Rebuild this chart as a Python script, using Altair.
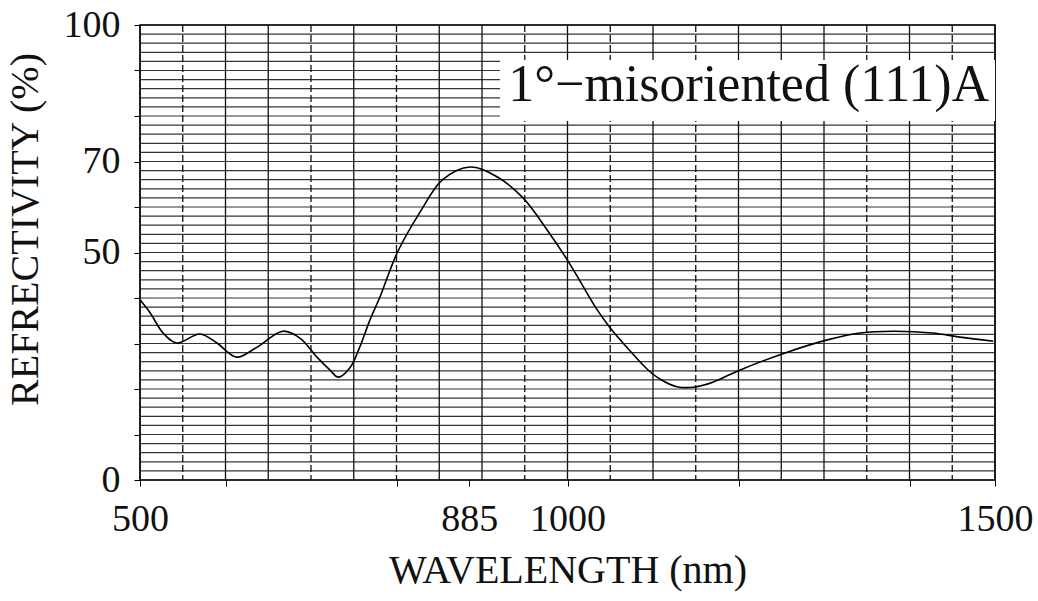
import altair as alt
import pandas as pd

# Curve
wavelength = [500, 512, 527, 543, 570, 590, 613, 637, 667, 687, 707, 722, 732,
              746, 757, 769, 781, 801, 827, 854, 886, 918, 948, 976, 1001,
              1015, 1034, 1050, 1073, 1093, 1108, 1128, 1147, 1170, 1202, 1257,
              1304, 1342, 1381, 1427, 1459, 1498]
reflectivity = [39.6, 36.7, 32.3, 30.1, 32.1, 30.1, 27.0, 29.2, 32.7, 31.2,
                27.0, 24.2, 22.6, 24.8, 29.2, 35.2, 40.4, 50.0, 58.7,
                66.0, 68.8, 66.6, 62.0, 55.0, 48.0, 43.6, 37.6, 33.4, 28.4,
                24.4, 22.2, 20.5, 20.4, 21.5, 24.2, 28.1, 30.8, 32.3, 32.7,
                32.3, 31.4, 30.5]

x_tick_values = [500, 600, 800, 885, 1000, 1200, 1400, 1500]
x_label_values = [500, 885, 1000, 1500]
y_tick_values = [0, 10, 20, 30, 40, 50, 60, 70, 80, 90, 100]
y_label_values = [0, 50, 70, 100]

h_grid = list(range(0, 101, 2))
v_grid_solid = [500, 600, 650, 750, 850, 900, 1000, 1100, 1200, 1250, 1300, 1400, 1500]
v_grid_dashed = [550, 700, 800, 950, 1050, 1150, 1350, 1450]

title_text = "1°−misoriented (111)A"
box_x = [921]
box_x2 = [1500]
box_y = [78.9]
box_y2 = [92.3]
label_x = [1212]
label_y = [83.4]

FONT = "Liberation Serif"

xs = alt.Scale(domain=[500, 1500], nice=False, zero=False)
ys = alt.Scale(domain=[0, 100], nice=False, zero=False)

x_lbl_expr = "indexof([" + ",".join(str(v) for v in x_label_values) + "], datum.value) >= 0 ? datum.label : ''"
y_lbl_expr = "indexof([" + ",".join(str(v) for v in y_label_values) + "], datum.value) >= 0 ? datum.label : ''"

hdf = pd.DataFrame({"y": h_grid})
hrules = alt.Chart(hdf).mark_rule(color="#111", strokeWidth=1.2, opacity=0.85).encode(
    y=alt.Y("y:Q", scale=ys, axis=alt.Axis(
        values=y_tick_values, labelExpr=y_lbl_expr, title="REFRECTIVITY (%)",
        grid=False, domain=False, tickSize=6, tickColor="black", labelPadding=14,
        labelFont=FONT, labelFontSize=38, labelColor="#111",
        titleFont=FONT, titleFontSize=40, titleFontWeight="normal", titleColor="#111",
        titlePadding=18, titleY=204)),
)

vs_df = pd.DataFrame({"x": v_grid_solid})
vrules_s = alt.Chart(vs_df).mark_rule(color="#111", strokeWidth=1.3).encode(
    x=alt.X("x:Q", scale=xs, axis=alt.Axis(
        values=x_tick_values, labelExpr=x_lbl_expr, format="d", title="WAVELENGTH (nm)",
        grid=False, domain=False, tickSize=6, tickColor="black", labelPadding=14,
        labelFlush=False,
        labelFont=FONT, labelFontSize=38, labelColor="#111",
        titleFont=FONT, titleFontSize=40, titleFontWeight="normal", titleColor="#111",
        titlePadding=12)),
)

vd_df = pd.DataFrame({"x": v_grid_dashed})
vrules_d = alt.Chart(vd_df).mark_rule(color="#111", strokeWidth=1.3, strokeDash=[7, 3]).encode(
    x=alt.X("x:Q", scale=xs),
)

box_df = pd.DataFrame({"x": box_x, "x2": box_x2, "y": box_y, "y2": box_y2})
box = alt.Chart(box_df).mark_rect(color="white", opacity=1).encode(
    x=alt.X("x:Q", scale=xs), x2="x2:Q", y=alt.Y("y:Q", scale=ys), y2="y2:Q"
)

lbl_df = pd.DataFrame({"x": label_x, "y": label_y, "t": [title_text]})
label = alt.Chart(lbl_df).mark_text(
    font=FONT, fontSize=52, color="#111", align="center", baseline="alphabetic"
).encode(x=alt.X("x:Q", scale=xs), y=alt.Y("y:Q", scale=ys), text="t:N")

curve_df = pd.DataFrame({"wl": wavelength, "r": reflectivity})
curve = alt.Chart(curve_df).mark_line(color="black", strokeWidth=1.6, interpolate="catmull-rom").encode(
    x=alt.X("wl:Q", scale=xs), y=alt.Y("r:Q", scale=ys)
)

chart = alt.layer(hrules, vrules_s, vrules_d, box, label, curve).properties(
    width=855, height=455,
    padding={"left": 140, "top": 25, "right": 43, "bottom": 121},
    autosize="none",
    background="white",
).configure_view(stroke="black", strokeWidth=1.6)

chart.save("out.html", embed_options={"renderer": "svg", "actions": False})
